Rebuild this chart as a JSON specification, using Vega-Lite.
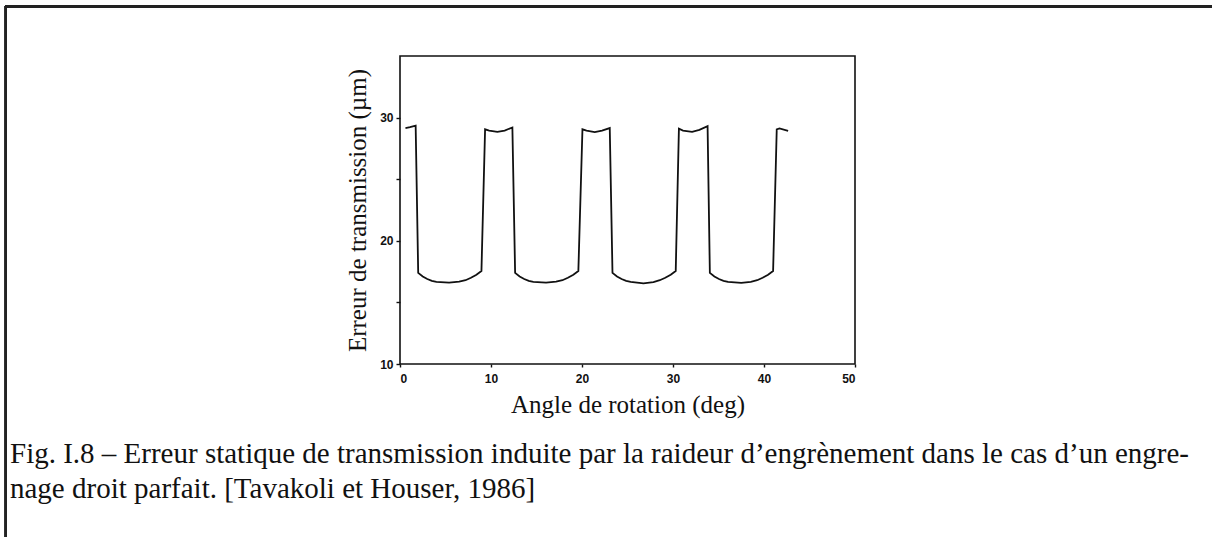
{
  "$schema": "https://vega.github.io/schema/vega-lite/v6.json",
  "width": 455,
  "height": 308,
  "autosize": "none",
  "padding": {"left": 400, "top": 56, "right": 357, "bottom": 173},
  "background": "white",
  "title": {
    "text": ["Fig. I.8 – Erreur statique de transmission induite par la raideur d’engrènement dans le cas d’un engre-", "nage droit parfait. [Tavakoli et Houser, 1986]"],
    "orient": "bottom",
    "anchor": "start",
    "frame": "group",
    "dx": -390,
    "offset": -110,
    "baseline": "top",
    "font": "Liberation Serif",
    "fontSize": 29,
    "fontWeight": "normal",
    "color": "#111",
    "lineHeight": 35
  },
  "config": {"view": {"stroke": "#111", "strokeWidth": 1.6}},
  "data": {
    "values": [
      {"angle": 0.6, "err": 29.15}, {"angle": 1.1, "err": 29.22}, {"angle": 1.72, "err": 29.35},
      {"angle": 2.0, "err": 17.4}, {"angle": 2.5, "err": 17.1}, {"angle": 3.0, "err": 16.9}, {"angle": 3.5, "err": 16.75}, {"angle": 4.0, "err": 16.67}, {"angle": 5.4, "err": 16.6}, {"angle": 6.5, "err": 16.68}, {"angle": 7.2, "err": 16.8}, {"angle": 7.8, "err": 17.0}, {"angle": 8.4, "err": 17.25}, {"angle": 8.95, "err": 17.55},
      {"angle": 9.35, "err": 29.05}, {"angle": 9.8, "err": 28.95}, {"angle": 10.7, "err": 28.85}, {"angle": 11.5, "err": 28.95}, {"angle": 12.35, "err": 29.2},
      {"angle": 12.65, "err": 17.4}, {"angle": 13.15, "err": 17.1}, {"angle": 13.65, "err": 16.9}, {"angle": 14.15, "err": 16.75}, {"angle": 14.65, "err": 16.67}, {"angle": 16.05, "err": 16.6}, {"angle": 17.15, "err": 16.68}, {"angle": 17.85, "err": 16.8}, {"angle": 18.45, "err": 17.0}, {"angle": 19.05, "err": 17.25}, {"angle": 19.6, "err": 17.55},
      {"angle": 20.05, "err": 29.05}, {"angle": 20.5, "err": 28.95}, {"angle": 21.4, "err": 28.82}, {"angle": 22.2, "err": 28.95}, {"angle": 23.05, "err": 29.15},
      {"angle": 23.35, "err": 17.4}, {"angle": 23.85, "err": 17.1}, {"angle": 24.35, "err": 16.9}, {"angle": 24.85, "err": 16.75}, {"angle": 25.35, "err": 16.67}, {"angle": 26.75, "err": 16.55}, {"angle": 27.85, "err": 16.65}, {"angle": 28.55, "err": 16.8}, {"angle": 29.15, "err": 17.0}, {"angle": 29.75, "err": 17.25}, {"angle": 30.3, "err": 17.55},
      {"angle": 30.65, "err": 29.1}, {"angle": 31.1, "err": 28.95}, {"angle": 32.1, "err": 28.85}, {"angle": 32.9, "err": 29.0}, {"angle": 33.8, "err": 29.3},
      {"angle": 34.05, "err": 17.4}, {"angle": 34.55, "err": 17.1}, {"angle": 35.05, "err": 16.9}, {"angle": 35.55, "err": 16.75}, {"angle": 36.05, "err": 16.67}, {"angle": 37.5, "err": 16.58}, {"angle": 38.55, "err": 16.66}, {"angle": 39.25, "err": 16.8}, {"angle": 39.85, "err": 17.0}, {"angle": 40.45, "err": 17.25}, {"angle": 41.0, "err": 17.55},
      {"angle": 41.4, "err": 29.05}, {"angle": 41.7, "err": 29.12}, {"angle": 42.65, "err": 28.92}
    ]
  },
  "layer": [
    {
      "mark": {"type": "line", "color": "#111", "strokeWidth": 1.8, "interpolate": "linear"},
      "encoding": {
        "x": {
          "field": "angle", "type": "quantitative",
          "scale": {"domain": [0, 50], "nice": false, "zero": false},
          "axis": {
            "title": "Angle de rotation (deg)",
            "values": [0, 10, 20, 30, 40, 50],
            "grid": false, "domain": false,
            "tickSize": 3, "tickColor": "#111", "tickWidth": 1.4,
            "labelPadding": 6, "labelFont": "Liberation Sans", "labelFontWeight": "bold", "labelFontSize": 12, "labelColor": "#111",
            "titleFont": "Liberation Serif", "titleFontWeight": "normal", "titleFontSize": 25, "titleColor": "#111",
            "titleBaseline": "alphabetic", "titleY": 48
          }
        },
        "y": {
          "field": "err", "type": "quantitative",
          "scale": {"domain": [10, 35], "nice": false, "zero": false},
          "axis": {
            "title": "Erreur de transmission (µm)",
            "values": [10, 15, 20, 25, 30],
            "labelExpr": "datum.value % 10 === 0 ? datum.label : ''",
            "grid": false, "domain": false,
            "tickSize": 4, "tickColor": "#111", "tickWidth": 1.4,
            "labelPadding": 3, "labelFont": "Liberation Sans", "labelFontWeight": "bold", "labelFontSize": 12, "labelColor": "#111",
            "titleFont": "Liberation Serif", "titleFontWeight": "normal", "titleFontSize": 25, "titleColor": "#111",
            "titleBaseline": "alphabetic", "titleAngle": -90, "titleX": -35, "titleY": 154
          }
        }
      }
    },
    {
      "mark": {"type": "rect", "fillOpacity": 0, "stroke": "#222", "strokeWidth": 2, "clip": false},
      "encoding": {
        "x": {"datum": -43.3, "type": "quantitative", "title": "Angle de rotation (deg)"},
        "x2": {"datum": 90.5},
        "y": {"datum": 39.0, "type": "quantitative", "title": "Erreur de transmission (µm)"},
        "y2": {"datum": -5.0}
      }
    }
  ]
}
